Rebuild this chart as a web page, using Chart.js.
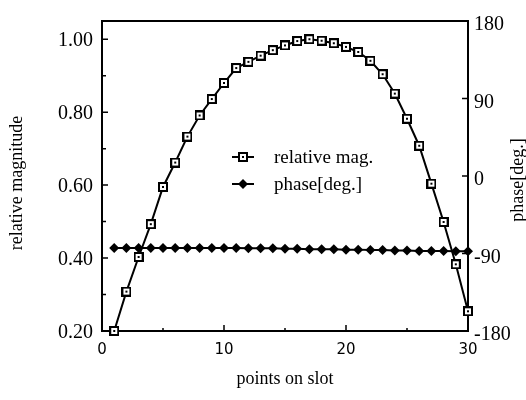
<!DOCTYPE html>
<html>
<head>
<meta charset="utf-8">
<script src="https://cdn.jsdelivr.net/npm/chart.js@4/dist/chart.umd.min.js"></script>
<style>
  html, body { margin: 0; background: #fff; }
  #wrap { width: 526px; height: 400px; }
</style>
</head>
<body>
<div id="wrap"><canvas id="myChart"></canvas></div>
<script>
const slots = [1, 2, 3, 4, 5, 6, 7, 8, 9, 10, 11, 12, 13, 14, 15, 16, 17, 18, 19, 20, 21, 22, 23, 24, 25, 26, 27, 28, 29, 30];
const relMag = [0.20, 0.308, 0.403, 0.493, 0.595, 0.662, 0.733, 0.791, 0.836, 0.880,
  0.921, 0.938, 0.955, 0.970, 0.983, 0.995, 1.00, 0.996, 0.989, 0.979,
  0.965, 0.941, 0.904, 0.851, 0.782, 0.708, 0.604, 0.499, 0.383, 0.254];
const phaseDeg = [-83.5, -83.5, -83.5, -83.5, -83.5, -83.5, -83.5, -83.5, -83.5, -83.5,
  -83.5, -84, -84, -84, -84.5, -84.5, -85, -85, -85, -85.5,
  -85.5, -86, -86, -86.5, -86.5, -87, -87, -87, -87.5, -87.5];
const slotTicks = [0, 10, 20, 30];
const slotMinor = [5, 15, 25];
const magTicks = [0.2, 0.4, 0.6, 0.8, 1.0];
const magMinor = [0.3, 0.5, 0.7, 0.9];
const phaseTicks = [-180, -90, 0, 90, 180];

const serif = "'Liberation Serif', 'Times New Roman', serif";

// open square with a dot in the middle
function squareMarker() {
  const c = document.createElement("canvas");
  c.width = 10; c.height = 10;
  const g = c.getContext("2d");
  g.fillStyle = "#fff"; g.fillRect(0, 0, 10, 10);
  g.strokeStyle = "#000"; g.lineWidth = 2; g.strokeRect(1, 1, 8, 8);
  g.fillStyle = "#000"; g.fillRect(4, 4, 2, 2);
  return c;
}
const sq = squareMarker();

const frame = {
  id: "frame",
  beforeDatasetsDraw(chart) {
    const { ctx, chartArea: a, scales } = chart;
    ctx.save();
    ctx.strokeStyle = "#000";
    ctx.lineWidth = 2;
    ctx.strokeRect(a.left, a.top, a.right - a.left, a.bottom - a.top);
    ctx.lineWidth = 1.5;
    ctx.beginPath();
    const tick = (x1, y1, x2, y2) => { ctx.moveTo(x1, y1); ctx.lineTo(x2, y2); };
    slotTicks.forEach(v => { const x = scales.x.getPixelForValue(v); tick(x, a.bottom, x, a.bottom - 6); });
    slotMinor.forEach(v => { const x = scales.x.getPixelForValue(v); tick(x, a.bottom, x, a.bottom - 3); });
    magTicks.forEach(v => { const y = scales.y.getPixelForValue(v); tick(a.left, y, a.left + 6, y); });
    magMinor.forEach(v => { const y = scales.y.getPixelForValue(v); tick(a.left, y, a.left + 4, y); });
    phaseTicks.forEach(v => { const y = scales.y2.getPixelForValue(v); tick(a.right, y, a.right - 6, y); });
    ctx.stroke();
    ctx.restore();
  },
  afterDraw(chart) {
    const { ctx, chartArea: a } = chart;
    ctx.save();
    ctx.fillStyle = "#000";
    ctx.font = "18px " + serif;
    ctx.textAlign = "center";
    ctx.textBaseline = "middle";
    ctx.fillText("points on slot", (a.left + a.right) / 2, 379);
    ctx.save();
    ctx.translate(17, 183);
    ctx.rotate(-Math.PI / 2);
    ctx.fillText("relative magnitude", 0, 0);
    ctx.restore();
    ctx.save();
    ctx.translate(518, 180);
    ctx.rotate(-Math.PI / 2);
    ctx.fillText("phase[deg.]", 0, 0);
    ctx.restore();

    // legend
    const lx = 243, ly1 = 157, ly2 = 184;
    ctx.strokeStyle = "#000";
    ctx.lineWidth = 2;
    ctx.beginPath();
    ctx.moveTo(lx - 11, ly1); ctx.lineTo(lx + 11, ly1);
    ctx.moveTo(lx - 11, ly2); ctx.lineTo(lx + 11, ly2);
    ctx.stroke();
    ctx.drawImage(sq, lx - 5, ly1 - 5);
    ctx.beginPath();
    ctx.moveTo(lx - 5, ly2); ctx.lineTo(lx, ly2 - 5); ctx.lineTo(lx + 5, ly2); ctx.lineTo(lx, ly2 + 5);
    ctx.closePath();
    ctx.fill();
    ctx.font = "19px " + serif;
    ctx.textAlign = "left";
    ctx.fillText("relative mag.", 274, ly1 + 1);
    ctx.fillText("phase[deg.]", 274, ly2 + 1);
    ctx.restore();
  }
};

new Chart(document.getElementById("myChart"), {
  type: "line",
  data: {
    datasets: [
      {
        label: "relative mag.",
        data: slots.map((x, i) => ({ x: x, y: relMag[i] })),
        yAxisID: "y",
        borderColor: "#000",
        borderWidth: 2,
        pointStyle: sq,
        pointRadius: 5,
        tension: 0,
        clip: false,
      },
      {
        label: "phase[deg.]",
        data: slots.map((x, i) => ({ x: x, y: phaseDeg[i] })),
        yAxisID: "y2",
        borderColor: "#000",
        backgroundColor: "#000",
        borderWidth: 2,
        pointStyle: "rectRot",
        pointRadius: 5,
        pointBorderWidth: 0,
        tension: 0,
        clip: false,
      },
    ],
  },
  options: {
    responsive: true,
    maintainAspectRatio: false,
    animation: false,
    layout: { padding: { top: 13 } },
    plugins: { legend: { display: false }, tooltip: { enabled: false } },
    scales: {
      x: {
        type: "linear",
        min: 0,
        max: 30,
        afterBuildTicks: s => { s.ticks = slotTicks.map(v => ({ value: v })); },
        afterFit: s => { s.height = 69; },
        grid: { display: false, drawTicks: false },
        border: { display: false },
        ticks: { color: "#000", padding: 10, maxRotation: 0, font: { family: "'DejaVu Sans'", size: 15 } },
      },
      y: {
        position: "left",
        min: 0.2,
        max: 1.05,
        afterBuildTicks: s => { s.ticks = magTicks.map(v => ({ value: v })); },
        afterFit: s => { s.width = 102; },
        grid: { display: false, drawTicks: false },
        border: { display: false },
        ticks: { color: "#000", padding: 9, labelOffset: 2, font: { family: serif, size: 20 },
          callback: v => v.toFixed(2) },
      },
      y2: {
        position: "right",
        min: -180,
        max: 180,
        afterBuildTicks: s => { s.ticks = phaseTicks.map(v => ({ value: v })); },
        afterFit: s => { s.width = 58; },
        grid: { display: false, drawTicks: false },
        border: { display: false },
        ticks: { color: "#000", padding: 6, labelOffset: 4, font: { family: serif, size: 20 } },
      },
    },
  },
  plugins: [frame],
});
</script>
</body>
</html>
